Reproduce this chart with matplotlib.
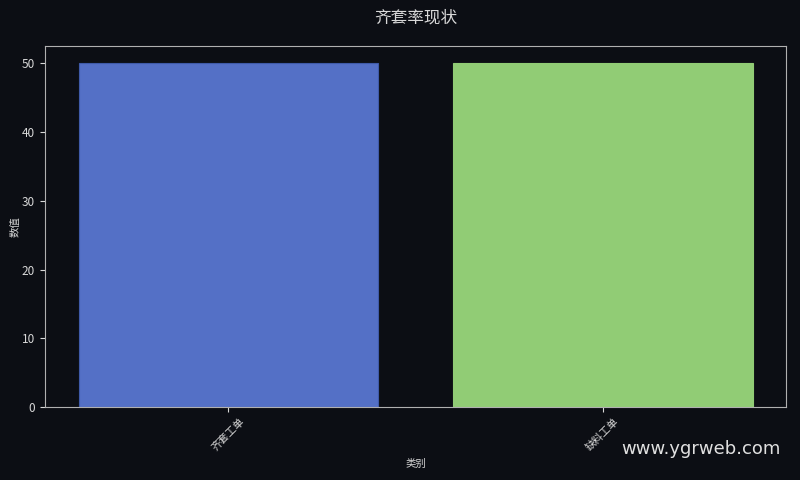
import matplotlib
matplotlib.use('Agg')
import matplotlib.pyplot as plt

plt.rcParams['font.family'] = ['Noto Sans CJK SC', 'DejaVu Sans']

# data
categories = ['齐套工单', '缺料工单']
values = [50, 50]
bar_colors = ['#5470c6', '#91cc75']

bg = '#0c0e14'
fg = '#d8d8d8'

fig = plt.figure(figsize=(8, 4.8), dpi=100, facecolor=bg)
ax = fig.add_axes([0.056, 0.152, 0.927, 0.752], facecolor=bg)

ax.bar(categories, values, width=0.8, color=bar_colors, edgecolor=['#3f5aa8', '#91cc75'], linewidth=0.8)

ax.set_title('齐套率现状', color=fg, fontsize=12, pad=17)
ax.set_xlabel('类别', color=fg, fontsize=7.5)
ax.set_ylabel('数值', color=fg, fontsize=7.5, labelpad=1)

for s in ax.spines.values():
    s.set_color('#b0b0b0')
ax.tick_params(colors=fg, labelsize=8.5)
ax.tick_params(axis='x', labelsize=7.5)
plt.setp(ax.get_xticklabels(), rotation=45)

fig.text(0.976, 0.065, 'www.ygrweb.com', color='#e0e0e0', fontsize=13,
         ha='right', va='center', family=['DejaVu Sans'])

fig.savefig('out.png', dpi=100, facecolor=bg)
